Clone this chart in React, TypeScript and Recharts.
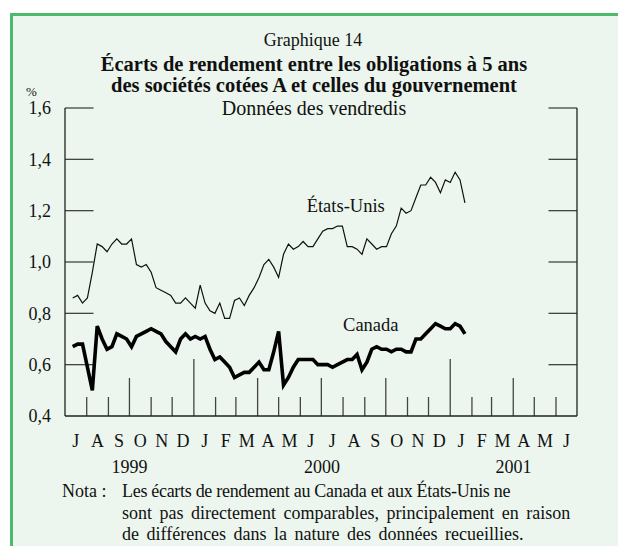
import React from 'react';
import { LineChart, Line, XAxis, YAxis, ReferenceLine, ReferenceDot } from 'recharts';

const FONT = 'Liberation Serif, Times New Roman, serif';

// Écarts hebdomadaires (%)
const usSpread = [
  0.86, 0.87, 0.84, 0.86, 0.96, 1.07, 1.06, 1.04, 1.07, 1.09,
  1.07, 1.07, 1.09, 0.99, 0.98, 0.99, 0.96, 0.9, 0.89, 0.88,
  0.87, 0.84, 0.84, 0.86, 0.84, 0.82, 0.91, 0.84, 0.81, 0.8,
  0.84, 0.78, 0.78, 0.85, 0.86, 0.83, 0.87, 0.9, 0.94, 0.99,
  1.01, 0.98, 0.94, 1.03, 1.07, 1.05, 1.06, 1.08, 1.06, 1.06,
  1.09, 1.12, 1.13, 1.13, 1.14, 1.14, 1.06, 1.06, 1.05, 1.03,
  1.09, 1.07, 1.05, 1.06, 1.06, 1.11, 1.14, 1.21, 1.19, 1.2,
  1.25, 1.3, 1.3, 1.33, 1.31, 1.27, 1.32, 1.31, 1.35, 1.32, 1.23,
];
const canadaSpread = [
  0.67, 0.68, 0.68, 0.59, 0.5, 0.75, 0.7, 0.66, 0.67, 0.72,
  0.71, 0.7, 0.67, 0.71, 0.72, 0.73, 0.74, 0.73, 0.72, 0.69,
  0.67, 0.65, 0.7, 0.72, 0.7, 0.71, 0.7, 0.71, 0.66, 0.62,
  0.63, 0.61, 0.59, 0.55, 0.56, 0.57, 0.57, 0.59, 0.61, 0.58,
  0.58, 0.65, 0.73, 0.52, 0.55, 0.59, 0.62, 0.62, 0.62, 0.62,
  0.6, 0.6, 0.6, 0.59, 0.6, 0.61, 0.62, 0.62, 0.64, 0.58,
  0.61, 0.66, 0.67, 0.66, 0.66, 0.65, 0.66, 0.66, 0.65, 0.65,
  0.7, 0.7, 0.72, 0.74, 0.76, 0.75, 0.74, 0.74, 0.76, 0.75, 0.72,
];
const monthLetters = ['J', 'A', 'S', 'O', 'N', 'D', 'J', 'F', 'M', 'A', 'M', 'J',
  'J', 'A', 'S', 'O', 'N', 'D', 'J', 'F', 'M', 'A', 'M', 'J'];
const yearLabels = ['1999', '2000', '2001'];
const yTicks = [0.4, 0.6, 0.8, 1.0, 1.2, 1.4, 1.6];

// axe des x en jours depuis le 1er juillet 1999
const START = Date.UTC(1999, 6, 1);
const dayOf = (y: number, m: number, d: number) => (Date.UTC(y, m, d) - START) / 86400000;
const FIRST_DAY = 11;
const data = usSpread.map((us, i) => ({ day: FIRST_DAY + 7 * i, us, ca: canadaSpread[i] }));

const monthStarts = Array.from({ length: 25 }, (_, k) => dayOf(1999, 6 + k, 1));
const END = monthStarts[24];
const monthMids = monthLetters.map((_, k) => (monthStarts[k] + monthStarts[k + 1]) / 2);
const yearMids = [
  (monthStarts[0] + monthStarts[6]) / 2,
  (monthStarts[6] + monthStarts[18]) / 2,
  (monthStarts[18] + monthStarts[24]) / 2,
];

const PX = 1.2 / 308; // valeur par pixel
const DAYPX = END / 512;
const GREEN = '#4db96e';
const BG = '#ecf6ee';
const INK = '#111';
const fmt = (v: number) => v.toFixed(1).replace('.', ',');
const tickStyle = { fill: INK, fontSize: 18, fontFamily: FONT };

export default function App() {
  return (
    <div style={{ position: 'fixed', left: 0, top: 0, width: 618, height: 546, overflow: 'hidden', background: '#fff', fontFamily: FONT, color: INK }}>
      <div style={{ position: 'absolute', left: 10, top: 13, width: 650, height: 600, border: `3.5px solid ${GREEN}`, background: BG }} />
      <div style={{ position: 'absolute', left: 0, width: 626, top: 30, textAlign: 'center', fontSize: 18, lineHeight: '20px' }}>Graphique 14</div>
      <div style={{ position: 'absolute', left: 0, width: 628, top: 54, textAlign: 'center', fontSize: 20.5, fontWeight: 'bold', lineHeight: '20px' }}>
        Écarts de rendement entre les obligations à 5 ans
      </div>
      <div style={{ position: 'absolute', left: 0, width: 628, top: 75, textAlign: 'center', fontSize: 20.5, fontWeight: 'bold', lineHeight: '20px' }}>
        des sociétés cotées A et celles du gouvernement
      </div>
      <div style={{ position: 'absolute', left: 0, width: 628, top: 97, textAlign: 'center', fontSize: 20, lineHeight: '22px' }}>Données des vendredis</div>
      <div style={{ position: 'absolute', left: 26, top: 85, fontSize: 13, lineHeight: '14px' }}>%</div>

      <div style={{ position: 'absolute', left: 0, top: 0, fontFamily: FONT }}>
        <LineChart width={618} height={546} data={data} margin={{ top: 108, right: 0, bottom: 78, left: 0 }}
          style={{ fontFamily: FONT }}>
          <XAxis xAxisId="m" dataKey="day" type="number" domain={[0, END]} ticks={monthMids} interval={0}
            tickFormatter={(v: number) => monthLetters[monthMids.indexOf(v)]}
            height={26} tickSize={0} tickMargin={18} tickLine={false}
            axisLine={{ stroke: '#222', strokeWidth: 1.3 }} tick={tickStyle} />
          <XAxis xAxisId="y" dataKey="day" type="number" domain={[0, END]} ticks={yearMids} interval={0}
            tickFormatter={(v: number) => yearLabels[yearMids.indexOf(v)]}
            height={26} tickSize={0} tickMargin={18} tickLine={false} axisLine={false} tick={tickStyle} />
          <YAxis yAxisId="left" type="number" domain={[0.4, 1.6]} ticks={yTicks} interval={0}
            width={65} tickSize={0} tickMargin={14} tickLine={false} tickFormatter={fmt}
            axisLine={{ stroke: '#222', strokeWidth: 1.3 }} tick={tickStyle} />
          <YAxis yAxisId="right" orientation="right" type="number" domain={[0.4, 1.6]} ticks={yTicks} interval={0}
            width={41} tickSize={0} tickMargin={14} tickLine={false} tickFormatter={fmt}
            axisLine={{ stroke: '#222', strokeWidth: 1.3 }} tick={tickStyle} />

          {yTicks.slice(1).map((v) => (
            <ReferenceLine key={'l' + v} xAxisId="m" yAxisId="left" stroke="#444" strokeWidth={1.3}
              segment={[{ x: 0, y: v }, { x: 28.5 * DAYPX, y: v }]} />
          ))}
          {yTicks.slice(1).map((v) => (
            <ReferenceLine key={'r' + v} xAxisId="m" yAxisId="left" stroke="#444" strokeWidth={1.3}
              segment={[{ x: END - 28.5 * DAYPX, y: v }, { x: END, y: v }]} />
          ))}
          {monthStarts.slice(1, 24).map((d, k) => {
            const m = (7 + k) % 12;
            const h = m === 0 ? 57 : m % 3 === 0 ? 38 : 19;
            return (
              <ReferenceLine key={'t' + k} xAxisId="m" yAxisId="left" stroke="#444" strokeWidth={1.3}
                segment={[{ x: d, y: 0.4 }, { x: d, y: 0.4 + h * PX }]} />
            );
          })}

          <Line xAxisId="m" yAxisId="left" dataKey="us" type="linear" stroke={INK} strokeWidth={1.2} dot={false} isAnimationActive={false} />
          <Line xAxisId="m" yAxisId="left" dataKey="ca" type="linear" stroke="#000" strokeWidth={3.6} dot={false} isAnimationActive={false} />

          <ReferenceDot xAxisId="m" yAxisId="left" x={345} y={1.222} r={0} fill="none" stroke="none"
            label={{ value: 'États-Unis', position: 'right', offset: 0, fill: INK, fontSize: 18.5, fontFamily: FONT }} />
          <ReferenceDot xAxisId="m" yAxisId="left" x={397} y={0.758} r={0} fill="none" stroke="none"
            label={{ value: 'Canada', position: 'right', offset: 0, fill: INK, fontSize: 18.5, fontFamily: FONT }} />
        </LineChart>
      </div>

      <div style={{ position: 'absolute', left: 62, top: 481, fontSize: 18, lineHeight: '21.5px' }}>Nota :</div>
      <div style={{ position: 'absolute', left: 122, top: 481, width: 490, fontSize: 18, lineHeight: '21.5px', whiteSpace: 'nowrap' }}>
        <div style={{ letterSpacing: -0.3 }}>Les écarts de rendement au Canada et aux États-Unis ne</div>
        <div style={{ wordSpacing: 3 }}>sont pas directement comparables, principalement en raison</div>
        <div style={{ wordSpacing: 3 }}>de différences dans la nature des données recueillies.</div>
      </div>
    </div>
  );
}
